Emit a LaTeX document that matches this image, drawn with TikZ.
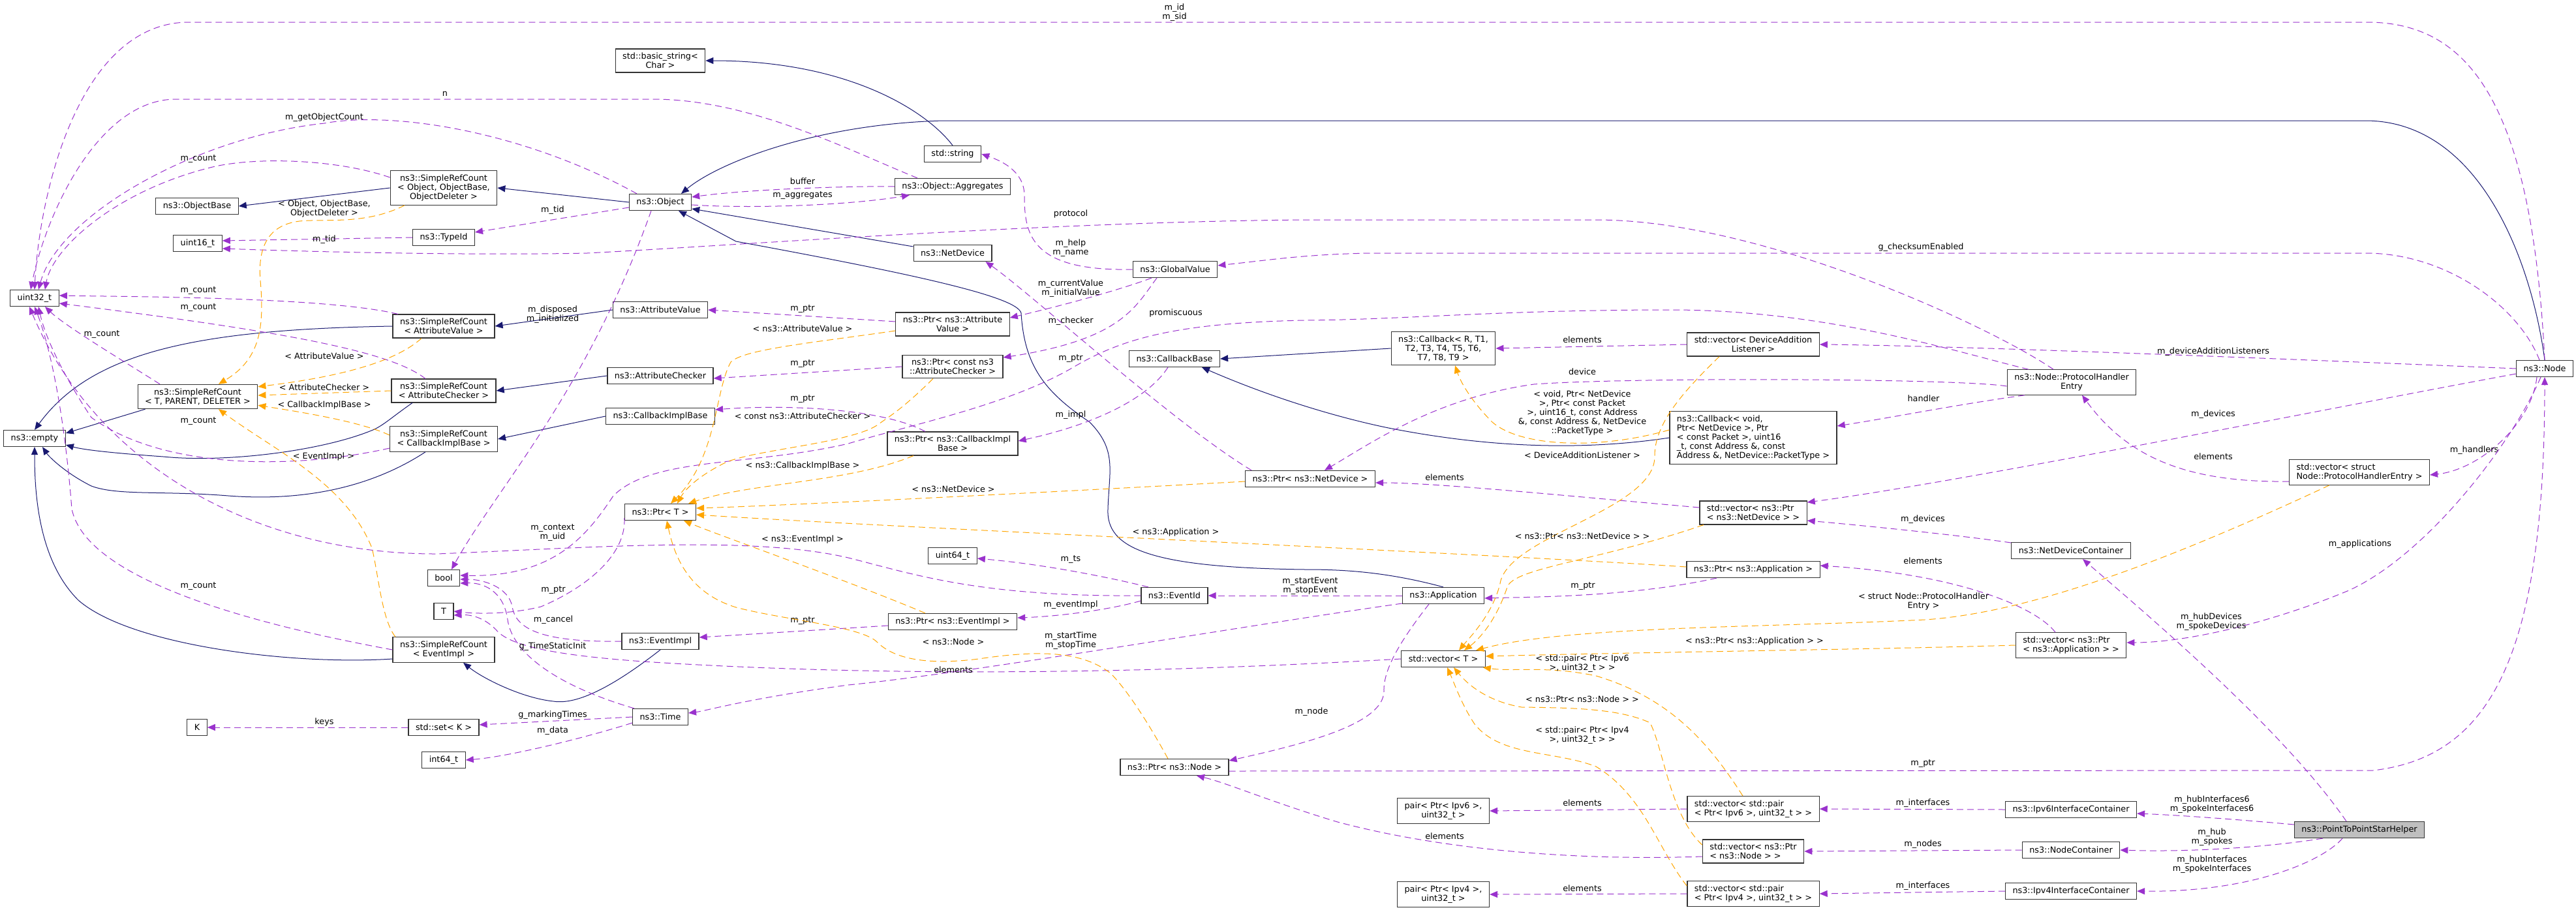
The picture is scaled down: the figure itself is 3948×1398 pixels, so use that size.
\documentclass[tikz,border=0pt]{standalone}
\usepackage{fontspec}
\setmainfont{DejaVu Sans}
\usepackage{tikz}
\usetikzlibrary{arrows.meta}
\definecolor{memcol}{RGB}{154,50,205}
\definecolor{inhcol}{RGB}{25,25,112}
\definecolor{tplcol}{RGB}{255,165,0}
\tikzstyle{cls} = [rectangle, draw=black!80, line width=0.6pt, fill=white, align=center,
    font=\fontsize{6.4}{7}\selectfont, inner xsep=5.5pt, inner ysep=3pt, minimum height=12.5pt]
\tikzstyle{lbl} = [font=\fontsize{6.4}{7}\selectfont, align=center, inner sep=0pt]
\tikzstyle{member} = [draw=memcol, line width=0.5pt, dash pattern=on 5pt off 3pt,
    -{Triangle[length=6pt,width=5pt]}]
\tikzstyle{inherit} = [draw=inhcol, line width=0.5pt, -{Triangle[length=6pt,width=5pt]}]
\tikzstyle{templ} = [draw=tplcol, line width=0.5pt, dash pattern=on 5pt off 3pt,
    -{Triangle[length=6pt,width=5pt]}]

\begin{document}
\begin{tikzpicture}[x=0.5pt,y=-0.5pt]
    \useasboundingbox (0,0) rectangle (3948,1398);
    % Place nodes
    \node [cls] (uint32) at (53,457) {uint32\_t};
    \node [cls] (empty) at (53,672) {ns3::empty};
    \node [cls] (objbase) at (302,316) {ns3::ObjectBase};
    \node [cls] (uint16) at (303,373) {uint16\_t};
    \node [cls] (srct) at (303,608) {ns3::SimpleRefCount\\< T, PARENT, DELETER >};
    \node [cls] (kk) at (302,1115) {K};
    \node [cls] (srcobj) at (680,288) {ns3::SimpleRefCount\\< Object, ObjectBase,\\ObjectDeleter >};
    \node [cls] (typeid) at (680,364) {ns3::TypeId};
    \node [cls] (srcav) at (680,500) {ns3::SimpleRefCount\\< AttributeValue >};
    \node [cls] (srcac) at (680,599) {ns3::SimpleRefCount\\< AttributeChecker >};
    \node [cls] (srccb) at (680,673) {ns3::SimpleRefCount\\< CallbackImplBase >};
    \node [cls] (bool) at (680,886) {bool};
    \node [cls] (tt) at (680,937) {T};
    \node [cls] (srcei) at (680,996) {ns3::SimpleRefCount\\< EventImpl >};
    \node [cls] (setk) at (680,1115) {std::set< K >};
    \node [cls] (int64) at (680,1165) {int64\_t};
    \node [cls] (bstring) at (1012,93) {std::basic\_string<\\ Char >};
    \node [cls] (object) at (1012,310) {ns3::Object};
    \node [cls] (attrval) at (1012,475) {ns3::AttributeValue};
    \node [cls] (attrchk) at (1012,576) {ns3::AttributeChecker};
    \node [cls] (cbimpl) at (1012,638) {ns3::CallbackImplBase};
    \node [cls] (ptrt) at (1012,785) {ns3::Ptr< T >};
    \node [cls] (eventimpl) at (1012,983) {ns3::EventImpl};
    \node [cls] (time) at (1012,1099) {ns3::Time};
    \node [cls] (string) at (1460,236) {std::string};
    \node [cls] (aggr) at (1460,286) {ns3::Object::Aggregates};
    \node [cls] (netdev) at (1460,388) {ns3::NetDevice};
    \node [cls] (ptrav) at (1460,497) {ns3::Ptr< ns3::Attribute\\Value >};
    \node [cls] (ptrac) at (1460,562) {ns3::Ptr< const ns3\\::AttributeChecker >};
    \node [cls] (ptrcb) at (1460,680) {ns3::Ptr< ns3::CallbackImpl\\Base >};
    \node [cls] (uint64) at (1460,852) {uint64\_t};
    \node [cls] (ptrei) at (1460,953) {ns3::Ptr< ns3::EventImpl >};
    \node [cls] (globval) at (1801,413) {ns3::GlobalValue};
    \node [cls] (cbbase) at (1800,550) {ns3::CallbackBase};
    \node [cls] (eventid) at (1800,913) {ns3::EventId};
    \node [cls] (ptrnode) at (1800,1176) {ns3::Ptr< ns3::Node >};
    \node [cls] (ptrnd) at (2008,734) {ns3::Ptr< ns3::NetDevice >};
    \node [cls] (cbr) at (2212,534) {ns3::Callback< R, T1,\\T2, T3, T4, T5, T6,\\T7, T8, T9 >};
    \node [cls] (app) at (2212,913) {ns3::Application};
    \node [cls] (vect) at (2212,1010) {std::vector< T >};
    \node [cls] (pair6) at (2212,1243) {pair< Ptr< Ipv6 >,\\uint32\_t >};
    \node [cls] (pair4) at (2212,1371) {pair< Ptr< Ipv4 >,\\uint32\_t >};
    \node [cls] (veclst) at (2687,528) {std::vector< DeviceAddition\\Listener >};
    \node [cls, align=left] (cbvoid) at (2687,671) {ns3::Callback< void,\\ Ptr< NetDevice >, Ptr\\< const Packet >, uint16\\\_t, const Address \&, const\\ Address \&, NetDevice::PacketType >};
    \node [cls, align=left] (vecnd) at (2687,786) {std::vector< ns3::Ptr\\< ns3::NetDevice > >};
    \node [cls] (ptrapp) at (2687,873) {ns3::Ptr< ns3::Application >};
    \node [cls, align=left] (vecp6) at (2687,1240) {std::vector< std::pair\\< Ptr< Ipv6 >, uint32\_t > >};
    \node [cls, align=left] (vecnode) at (2687,1305) {std::vector< ns3::Ptr\\< ns3::Node > >};
    \node [cls, align=left] (vecp4) at (2687,1370) {std::vector< std::pair\\< Ptr< Ipv4 >, uint32\_t > >};
    \node [cls] (phe) at (3175,586) {ns3::Node::ProtocolHandler\\Entry};
    \node [cls] (ndc) at (3174,844) {ns3::NetDeviceContainer};
    \node [cls, align=left] (vecapp) at (3174,989) {std::vector< ns3::Ptr\\< ns3::Application > >};
    \node [cls] (ip6ic) at (3174,1241) {ns3::Ipv6InterfaceContainer};
    \node [cls] (nc) at (3174,1303) {ns3::NodeContainer};
    \node [cls] (ip4ic) at (3174,1366) {ns3::Ipv4InterfaceContainer};
    \node [cls, align=left] (vecphe) at (3616,724) {std::vector< struct\\ Node::ProtocolHandlerEntry >};
    \node [cls, fill=black!25] (star) at (3616,1272) {ns3::PointToPointStarHelper};
    \node [cls] (node) at (3900,565) {ns3::Node};

    % Draw edges: inheritance
    \path [inherit] (string.north) .. controls (1420,170) and (1300,93) .. (bstring.east);
    \path [inherit] (node.north) .. controls (3880,400) and (3800,185) .. (3625,185) -- (1446,185) .. controls (1250,190) and (1100,250) .. ([xshift=16pt]object.north);
    \path [inherit] ([yshift=5pt]netdev.west) -- ([yshift=-5pt]object.east);
    \path [inherit] (app.north) .. controls (2120,875) and (2050,873) .. (2000,873) .. controls (1760,870) and (1695,840) .. (1698,780) .. controls (1700,720) and (1712,690) .. (1670,647) .. controls (1600,600) and (1570,560) .. (1565,480) .. controls (1560,455) and (1400,420) .. (1128,370) -- ([xshift=14pt]object.south);
    \path [inherit] (srcobj.west) -- (objbase.east);
    \path [inherit] (object.west) -- (srcobj.east);
    \path [inherit] (srcav.west) .. controls (300,505) and (140,540) .. (empty.north);
    \path [inherit] ([xshift=6pt]srct.south west) -- ([yshift=4pt]empty.east);
    \path [inherit] ([xshift=-24pt]srcac.south) .. controls (600,640) and (590,650) .. (574,658) .. controls (500,690) and (350,710) .. (250,700) .. controls (180,695) and (130,690) .. ([yshift=-5pt]empty.east);
    \path [inherit] ([xshift=-14pt]srccb.south) .. controls (580,740) and (480,770) .. (350,760) .. controls (250,752) and (180,760) .. (140,745) .. controls (100,725) and (75,700) .. ([xshift=6pt]empty.south);
    \path [inherit] ([yshift=-7pt]srcei.west) .. controls (450,1020) and (200,990) .. (120,920) .. controls (60,860) and (53,760) .. (empty.south);
    \path [inherit] (attrval.west) -- (srcav.east);
    \path [inherit] (attrchk.west) -- (srcac.east);
    \path [inherit] (cbimpl.west) -- (srccb.east);
    \path [inherit] (eventimpl.south) .. controls (930,1060) and (880,1080) .. (848,1075) .. controls (800,1070) and (740,1040) .. ([xshift=15pt]srcei.south);
    \path [inherit] (cbr.west) -- (cbbase.east);
    \path [inherit] (cbvoid.west) .. controls (2400,695) and (2250,680) .. (2128,656) .. controls (2050,640) and (1950,610) .. ([xshift=21pt]cbbase.south);

    % Draw edges: members
    \path [member] (node.north) .. controls (3880,150) and (3780,34) .. (3627,34) -- (290,34) .. controls (120,34) and (60,300) .. (uint32.north)
        node [lbl] at (1800,19) {m\_id\\m\_sid};
    \path [member] ([xshift=-27pt]aggr.north) .. controls (1300,230) and (1150,152) .. (1000,152) -- (270,152) .. controls (150,152) and (70,330) .. ([xshift=-3pt]uint32.north)
        node [lbl] at (682,144) {n};
    \path [member] ([xshift=-18pt]object.north) .. controls (800,200) and (600,170) .. (497,189) .. controls (300,210) and (90,330) .. ([xshift=3pt]uint32.north)
        node [lbl] at (497,180) {m\_getObjectCount};
    \path [member] ([yshift=8pt]srcobj.west) .. controls (520,245) and (400,240) .. (330,255) .. controls (180,290) and (80,380) .. ([xshift=8pt]uint32.north)
        node [lbl] at (304,244) {m\_count};
    \path [member] ([xshift=-35pt]srcav.north) .. controls (500,455) and (200,455) .. ([yshift=2pt]uint32.east)
        node [lbl] at (304,446) {m\_count};
    \path [member] ([xshift=-14pt]srcac.north) .. controls (600,540) and (450,510) .. ([yshift=-4pt]uint32.east)
        node [lbl] at (304,472) {m\_count};
    \path [member] ([xshift=-29pt]srct.north) .. controls (200,560) and (100,500) .. ([xshift=8pt]uint32.south)
        node [lbl] at (156,513) {m\_count};
    \path [member] ([yshift=-7pt]srccb.west) .. controls (450,720) and (250,720) .. (140,640) .. controls (100,580) and (70,520) .. ([xshift=3pt]uint32.south)
        node [lbl] at (304,646) {m\_count};
    \path [member] (srcei.west) .. controls (350,950) and (130,880) .. (110,780) .. controls (100,650) and (80,540) .. (uint32.south)
        node [lbl] at (304,899) {m\_count};
    \path [member] (eventid.west) .. controls (1500,915) and (1400,880) .. (1300,855) .. controls (1150,820) and (900,840) .. (670,849) .. controls (400,850) and (150,720) .. ([xshift=-4pt]uint32.south)
        node [lbl] at (847,817) {m\_context\\m\_uid};
    \path [member] ([xshift=-7pt]object.south) .. controls (900,600) and (760,750) .. ([xshift=6pt]bool.north)
        node [lbl] at (847,482) {m\_disposed\\m\_initialized};
    \path [member] ([yshift=-4pt]object.west) -- ([yshift=4pt]typeid.east)
        node [lbl] at (847,322) {m\_tid};
    \path [member] (typeid.west) -- ([yshift=2pt]uint16.east)
        node [lbl] at (497,367) {m\_tid};
    \path [member] ([xshift=-14pt]phe.north) .. controls (3050,500) and (2700,337) .. (2446,337) -- (2000,337) .. controls (1600,340) and (1100,378) .. (900,388) .. controls (700,392) and (450,385) .. ([yshift=-4pt]uint16.east)
        node [lbl] at (1641,328) {protocol};
    \path [member] (aggr.west) .. controls (1300,285) and (1150,290) .. ([yshift=4pt]object.east)
        node [lbl] at (1230,278) {buffer};
    \path [member] ([yshift=-2pt]object.east) .. controls (1150,320) and (1300,315) .. ([xshift=-33pt]aggr.south)
        node [lbl] at (1230,300) {m\_aggregates};
    \path [member] (globval.west) .. controls (1580,416) and (1570,360) .. (1570,300) .. controls (1570,260) and (1530,245) .. (string.east)
        node [lbl] at (1641,380) {m\_help\\m\_name};
    \path [member] ([xshift=-4pt]node.north) .. controls (3860,470) and (3750,388) .. (3625,388) -- (2100,388) .. controls (2000,390) and (1950,398) .. ([yshift=3pt]globval.east)
        node [lbl] at (2944,379) {g\_checksumEnabled};
    \path [member] ([xshift=-18pt]globval.south) .. controls (1700,450) and (1600,475) .. ([yshift=5pt]ptrav.east)
        node [lbl] at (1641,442) {m\_currentValue\\m\_initialValue};
    \path [member] ([xshift=-14pt]globval.south) .. controls (1740,470) and (1720,520) .. ([yshift=7pt]ptrac.east)
        node [lbl] at (1641,492) {m\_checker};
    \path [member] ([yshift=2pt]ptrav.west) -- (attrval.east)
        node [lbl] at (1230,474) {m\_ptr};
    \path [member] (ptrac.west) -- ([yshift=-2pt]attrchk.east)
        node [lbl] at (1230,558) {m\_ptr};
    \path [member] ([xshift=-21pt]ptrcb.north) .. controls (1350,625) and (1200,620) .. ([yshift=5pt]cbimpl.east)
        node [lbl] at (1230,612) {m\_ptr};
    \path [member] ([xshift=-5pt]cbbase.south) .. controls (1760,610) and (1680,650) .. ([yshift=2pt]ptrcb.east)
        node [lbl] at (1641,636) {m\_impl};
    \path [member] ([xshift=-45pt]ptrnd.north) .. controls (1800,650) and (1580,450) .. ([xshift=-5pt]netdev.south east)
        node [lbl] at (1641,550) {m\_ptr};
    \path [member] ([yshift=4pt]vecnd.west) .. controls (2400,760) and (2200,740) .. ([yshift=-3pt]ptrnd.east)
        node [lbl] at (2214,732) {elements};
    \path [member] (veclst.west) -- (cbr.east)
        node [lbl] at (2425,521) {elements};
    \path [member] (node.west) .. controls (3500,550) and (3000,530) .. (veclst.east)
        node [lbl] at (3392,539) {m\_deviceAdditionListeners};
    \path [member] ([yshift=-3pt]phe.west) .. controls (3000,580) and (2500,578) .. (2351,589) .. controls (2200,610) and (2100,680) .. ([xshift=11pt]ptrnd.north)
        node [lbl] at (2425,570) {device};
    \path [member] ([xshift=-36pt]phe.south) .. controls (3000,620) and (2900,640) .. ([yshift=9pt]cbvoid.east)
        node [lbl] at (2948,611) {handler};
    \path [member] ([yshift=-4pt]node.west) .. controls (3600,620) and (3000,740) .. ([yshift=8pt]vecnd.east)
        node [lbl] at (3392,635) {m\_devices};
    \path [member] ([yshift=6pt]ndc.west) .. controls (3000,820) and (2850,805) .. ([yshift=-6pt]vecnd.east)
        node [lbl] at (2947,796) {m\_devices};
    \path [member] ([xshift=-6pt]node.south) .. controls (3880,650) and (3800,720) .. ([yshift=-2pt]vecphe.east)
        node [lbl] at (3792,690) {m\_handlers};
    \path [member] ([yshift=-7pt]vecphe.west) .. controls (3350,740) and (3260,700) .. ([xshift=8pt]phe.south)
        node [lbl] at (3392,700) {elements};
    \path [member] ([xshift=-3pt]node.south) .. controls (3850,680) and (3720,850) .. (3600,905) .. controls (3480,955) and (3350,985) .. ([yshift=2pt]vecapp.east)
        node [lbl] at (3617,834) {m\_applications};
    \path [member] ([xshift=-12pt]vecapp.north) .. controls (3120,930) and (3000,880) .. ([yshift=3pt]ptrapp.east)
        node [lbl] at (2947,860) {elements};
    \path [member] ([xshift=-28pt]ptrapp.south) .. controls (2500,915) and (2350,915) .. ([yshift=-2pt]app.east)
        node [lbl] at (2426,899) {m\_ptr};
    \path [member] (app.west) -- (eventid.east)
        node [lbl] at (2008,898) {m\_startEvent\\m\_stopEvent};
    \path [member] ([xshift=-20pt]eventid.north) .. controls (1700,885) and (1600,865) .. ([yshift=-2pt]uint64.east)
        node [lbl] at (1641,858) {m\_ts};
    \path [member] ([yshift=-4pt]eventid.west) .. controls (1700,935) and (1620,945) .. ([yshift=3pt]ptrei.east)
        node [lbl] at (1641,927) {m\_eventImpl};
    \path [member] ([yshift=-3pt]ptrei.west) -- ([yshift=3pt]eventimpl.east)
        node [lbl] at (1230,952) {m\_ptr};
    \path [member] ([yshift=-6pt]app.west) .. controls (1900,960) and (1500,1030) .. (1300,1050) .. controls (1150,1070) and (1080,1090) .. ([yshift=3pt]time.east)
        node [lbl] at (1641,982) {m\_startTime\\m\_stopTime};
    \path [member] (vect.west) .. controls (1800,1030) and (1400,1040) .. (1000,1015) .. controls (850,1005) and (780,990) .. (760,965) .. controls (740,945) and (720,942) .. ([yshift=-3pt]tt.east)
        node [lbl] at (1461,1027) {elements};
    \path [member] ([xshift=-20pt]time.north) .. controls (850,1050) and (785,1000) .. (778,950) .. controls (772,905) and (740,893) .. ([yshift=-4pt]bool.east)
        node [lbl] at (847,991) {g\_TimeStaticInit};
    \path [member] (eventimpl.west) .. controls (820,985) and (790,960) .. (785,930) .. controls (780,900) and (740,888) .. ([yshift=-1pt]bool.east)
        node [lbl] at (848,950) {m\_cancel};
    \path [member] ([yshift=2pt]ptrt.south west) .. controls (960,850) and (900,900) .. (829,930) .. controls (780,942) and (730,941) .. (tt.east)
        node [lbl] at (848,905) {m\_ptr};
    \path [member] (setk.west) -- (kk.east)
        node [lbl] at (497,1107) {keys};
    \path [member] (time.west) -- ([yshift=2pt]setk.east)
        node [lbl] at (847,1096) {g\_markingTimes};
    \path [member] ([yshift=2pt]time.south west) .. controls (900,1130) and (780,1160) .. (int64.east)
        node [lbl] at (847,1120) {m\_data};
    \path [member] ([xshift=-11pt]app.south) .. controls (2140,990) and (2120,1030) .. (2121,1060) .. controls (2120,1110) and (2000,1140) .. ([yshift=5pt]ptrnode.east)
        node [lbl] at (2010,1091) {m\_node};
    \path [member] ([yshift=-3pt]ptrnode.east) -- (3637,1181) .. controls (3820,1160) and (3900,1000) .. (node.south)
        node [lbl] at (2947,1171) {m\_ptr};
    \path [member] ([yshift=-4pt]vecnode.west) .. controls (2400,1320) and (2200,1300) .. (2050,1260) .. controls (1950,1230) and (1880,1200) .. ([xshift=17pt]ptrnode.south)
        node [lbl] at (2214,1282) {elements};
    \path [member] (vecp6.west) -- (pair6.east)
        node [lbl] at (2425,1231) {elements};
    \path [member] (vecp4.west) -- (pair4.east)
        node [lbl] at (2425,1362) {elements};
    \path [member] (ip6ic.west) -- (vecp6.east)
        node [lbl] at (2947,1231) {m\_interfaces};
    \path [member] (nc.west) -- (vecnode.east)
        node [lbl] at (2947,1294) {m\_nodes};
    \path [member] (ip4ic.west) -- (vecp4.east)
        node [lbl] at (2947,1358) {m\_interfaces};
    \path [member] ([yshift=4pt]star.west) .. controls (3450,1258) and (3350,1250) .. ([yshift=-3pt]ip6ic.east)
        node [lbl] at (3390,1233) {m\_hubInterfaces6\\m\_spokeInterfaces6};
    \path [member] ([xshift=-28pt]star.south) .. controls (3500,1295) and (3380,1307) .. (nc.east)
        node [lbl] at (3390,1283) {m\_hub\\m\_spokes};
    \path [member] ([xshift=-13pt]star.south) .. controls (3560,1320) and (3450,1368) .. (ip4ic.east)
        node [lbl] at (3390,1325) {m\_hubInterfaces\\m\_spokeInterfaces};
    \path [member] ([xshift=-10pt]star.north) .. controls (3500,1120) and (3300,950) .. ([xshift=9pt]ndc.south)
        node [lbl] at (3389,953) {m\_hubDevices\\m\_spokeDevices};
    \path [member] ([xshift=-33pt]phe.north) .. controls (3000,540) and (2800,475) .. (2561,475) .. controls (2300,475) and (2150,490) .. (2000,491) .. controls (1800,495) and (1720,520) .. (1650,560) .. controls (1550,620) and (1400,650) .. (1300,680) .. controls (1150,715) and (1000,700) .. (940,760) .. controls (900,820) and (850,885) .. ([yshift=2pt]bool.east)
        node [lbl] at (1802,480) {promiscuous};

    % Draw edges: templates
    \path [templ] ([xshift=-30pt]srcobj.south) .. controls (560,345) and (500,335) .. (459,339) .. controls (410,345) and (395,380) .. (399,430) .. controls (405,500) and (400,550) .. ([xshift=16pt]srct.north)
        node [lbl] at (497,320) {< Object, ObjectBase,\\ObjectDeleter >};
    \path [templ] ([xshift=-17pt]srcav.south) .. controls (600,560) and (500,580) .. ([yshift=-2pt]srct.north east)
        node [lbl] at (497,546) {< AttributeValue >};
    \path [templ] (srcac.west) -- ([yshift=1pt]srct.east)
        node [lbl] at (497,594) {< AttributeChecker >};
    \path [templ] ([yshift=3pt]srccb.west) .. controls (550,645) and (450,630) .. ([yshift=3pt]srct.south east)
        node [lbl] at (497,621) {< CallbackImplBase >};
    \path [templ] ([xshift=-37pt]srcei.north) .. controls (585,950) and (580,880) .. (570,840) .. controls (530,740) and (420,690) .. ([xshift=16pt]srct.south)
        node [lbl] at (496,700) {< EventImpl >};
    \path [templ] ([yshift=-5pt]ptrav.west) .. controls (1250,525) and (1140,535) .. (1120,555) .. controls (1095,600) and (1100,700) .. ([xshift=8pt]ptrt.north)
        node [lbl] at (1230,504) {< ns3::AttributeValue >};
    \path [templ] ([xshift=-15pt]ptrac.south) .. controls (1380,630) and (1360,640) .. (1344,652) .. controls (1300,680) and (1150,690) .. (1110,710) .. controls (1070,730) and (1050,750) .. ([xshift=13pt]ptrt.north)
        node [lbl] at (1230,638) {< const ns3::AttributeChecker >};
    \path [templ] ([xshift=-30pt]ptrcb.south) .. controls (1300,740) and (1150,740) .. ([xshift=-6pt]ptrt.north east)
        node [lbl] at (1230,714) {< ns3::CallbackImplBase >};
    \path [templ] ([yshift=-2pt]ptrnd.west) .. controls (1600,755) and (1200,775) .. ([yshift=3pt]ptrt.east)
        node [lbl] at (1461,750) {< ns3::NetDevice >};
    \path [templ] ([yshift=2pt]ptrapp.west) .. controls (2300,850) and (1400,810) .. ([yshift=-2pt]ptrt.east)
        node [lbl] at (1802,816) {< ns3::Application >};
    \path [templ] ([xshift=-21pt]ptrei.north) .. controls (1300,890) and (1100,820) .. ([xshift=18pt]ptrt.south)
        node [lbl] at (1230,827) {< ns3::EventImpl >};
    \path [templ] ([xshift=-5pt]ptrnode.north) .. controls (1750,1090) and (1720,1050) .. (1702,1032) .. controls (1660,1000) and (1600,995) .. (1500,1010) .. controls (1420,1020) and (1370,1010) .. (1344,984) .. controls (1320,960) and (1200,950) .. (1128,931) .. controls (1060,910) and (1035,860) .. ([xshift=5pt]ptrt.south)
        node [lbl] at (1461,984) {< ns3::Node >};
    \path [templ] ([yshift=6pt]cbvoid.west) .. controls (2450,690) and (2330,685) .. (2287,647) .. controls (2260,620) and (2240,590) .. ([xshift=9pt]cbr.south)
        node [lbl] at (2425,633) {< void, Ptr< NetDevice\\>, Ptr< const Packet\\>, uint16\_t, const Address\\\&, const Address \&, NetDevice\\::PacketType >};
    \path [templ] ([xshift=-26pt]veclst.south) .. controls (2580,600) and (2535,650) .. (2536,700) .. controls (2536,780) and (2320,820) .. (2300,890) .. controls (2290,940) and (2250,980) .. ([xshift=12pt]vect.north)
        node [lbl] at (2425,698) {< DeviceAdditionListener >};
    \path [templ] ([xshift=-38pt]vecnd.south) .. controls (2450,860) and (2320,870) .. (2310,900) .. controls (2290,960) and (2260,985) .. ([xshift=16pt]vect.north)
        node [lbl] at (2425,822) {< ns3::Ptr< ns3::NetDevice > >};
    \path [templ] ([xshift=-23pt]vecphe.south) .. controls (3300,870) and (3100,940) .. (2950,950) .. controls (2700,962) and (2400,960) .. ([xshift=25pt]vect.north)
        node [lbl] at (2948,922) {< struct Node::ProtocolHandler\\Entry >};
    \path [templ] (vecapp.west) .. controls (2900,995) and (2500,1000) .. ([yshift=2pt]vect.east)
        node [lbl] at (2689,983) {< ns3::Ptr< ns3::Application > >};
    \path [templ] ([xshift=-8pt]vecp6.north) .. controls (2620,1140) and (2560,1070) .. (2446,1036) .. controls (2370,1020) and (2320,1030) .. ([xshift=-2pt]vect.south east)
        node [lbl] at (2425,1017) {< std::pair< Ptr< Ipv6\\>, uint32\_t > >};
    \path [templ] ([yshift=5pt]vecnode.west) .. controls (2560,1250) and (2550,1150) .. (2529,1108) .. controls (2480,1085) and (2400,1085) .. (2332,1084) .. controls (2280,1075) and (2250,1050) .. ([xshift=8pt]vect.south)
        node [lbl] at (2425,1072) {< ns3::Ptr< ns3::Node > >};
    \path [templ] ([yshift=-4pt]vecp4.north west) .. controls (2540,1300) and (2520,1220) .. (2446,1175) .. controls (2380,1150) and (2300,1160) .. (2260,1110) .. controls (2240,1080) and (2230,1050) .. ([xshift=3pt]vect.south)
        node [lbl] at (2425,1127) {< std::pair< Ptr< Ipv4\\>, uint32\_t > >};

\end{tikzpicture}
\end{document}
